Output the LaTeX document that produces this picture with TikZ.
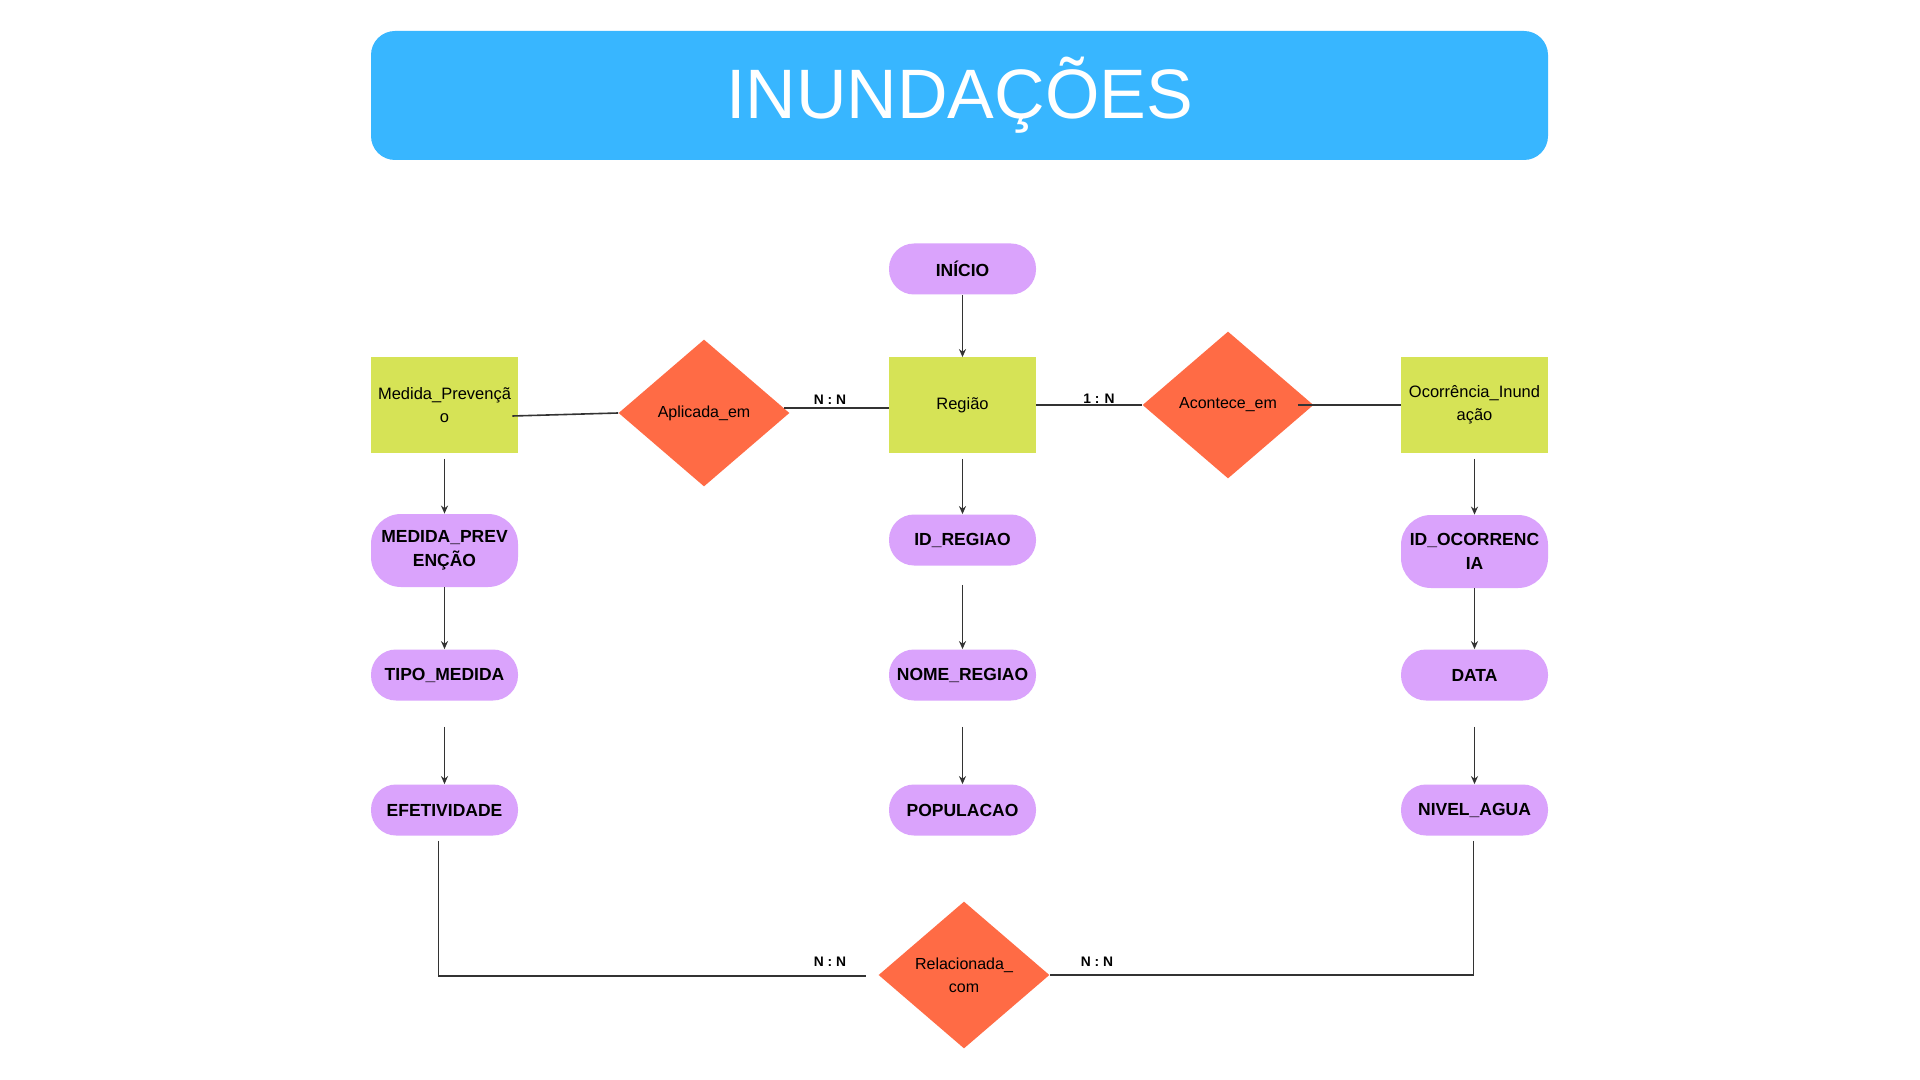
\documentclass[tikz,border=0pt]{standalone}
\usepackage{fontspec}
\setmainfont{Liberation Sans}
\usetikzlibrary{shapes.geometric,arrows.meta}
\definecolor{titleblue}{HTML}{38B6FF}
\definecolor{entgreen}{HTML}{D6E356}
\definecolor{relorange}{HTML}{FF6B45}
\definecolor{attrpurple}{HTML}{DAA3FC}
\definecolor{linegray}{HTML}{333333}
\begin{document}
\begin{tikzpicture}[x=0.5pt,y=-0.5pt,
  entity/.style={rectangle, fill=entgreen, minimum width=73.5pt, minimum height=47.5pt, inner sep=0pt, align=center, font=\fontsize{8.25}{11.5}\selectfont},
  attr/.style={rectangle, rounded corners=12.5pt, fill=attrpurple, minimum width=73.5pt, minimum height=25.5pt, inner sep=0pt, align=center, font=\bfseries\fontsize{8.75}{12.25}\selectfont},
  attrtall/.style={attr, rounded corners=15pt, minimum height=36.5pt},
  rel/.style={diamond, fill=relorange, minimum width=85.5pt, minimum height=73.5pt, inner sep=0pt, aspect=1.16, align=center, font=\fontsize{8}{11.5}\selectfont},
  card/.style={font=\bfseries\fontsize{6.9}{8}\selectfont, inner sep=0pt},
  conn/.style={draw=linegray, line width=0.8pt},
  arr/.style={conn, -{Stealth[length=4pt,width=3.5pt]}}
]
\useasboundingbox (0,0) rectangle (1920,1080);
\fill[white] (0,0) rectangle (1920,1080);

% title
\fill[titleblue, rounded corners=12pt] (371,31) rectangle (1548,160);
\node[anchor=base, text=white, font=\fontsize{35}{40}\selectfont, inner sep=0pt] (title) at (959.5,119) {INUNDAÇÕES};

% nodes
\node[attr] (inicio) at (962.5,269) {INÍCIO};
\node[entity] (regiao) at (962.5,405) {Região};
\node[entity] (medida) at (444.5,405) {Medida\_Prevençã\\o};
\node[entity] (ocorr) at (1474.5,405) {Ocorrência\_Inund\\ação};
\node[rel] (aplicada) at (704,413) {Aplicada\_em};
\node[rel] (acontece) at (1228,405) {Acontece\_em};
\node[rel] (relac) at (964,975) {Relacionada\_\\com};

\node[attrtall] (medprev) at (444.5,550.5) {MEDIDA\_PREV\\ENÇÃO};
\node[attr] (tipo) at (444.5,675) {TIPO\_MEDIDA};
\node[attr] (efet) at (444.5,810) {EFETIVIDADE};
\node[attr] (idreg) at (962.5,540) {ID\_REGIAO};
\node[attr] (nomereg) at (962.5,675) {NOME\_REGIAO};
\node[attr] (popul) at (962.5,810) {POPULACAO};
\node[attrtall] (idocor) at (1474.5,551.5) {ID\_OCORRENC\\IA};
\node[attr] (data) at (1474.5,675) {DATA};
\node[attr] (nivel) at (1474.5,810) {NIVEL\_AGUA};

% cardinality labels
\node[card] (c1) at (830,400) {N : N};
\node[card] (c2) at (1099,399) {1 : N};
\node[card] (c3) at (830,962) {N : N};
\node[card] (c4) at (1097,962) {N : N};

% connectors
\draw[arr] (inicio.south) -- (regiao.north);
\draw[conn] ([xshift=-3pt,yshift=-5.5pt]medida.east) -- (aplicada.west);
\draw[conn] ([xshift=-3pt,yshift=2.5pt]aplicada.east) -- ([yshift=-1.5pt]regiao.west);
\draw[conn] (regiao.east) -- (acontece.west);
\draw[conn] ([xshift=-8pt]acontece.east) -- (ocorr.west);

\draw[arr, shorten <=3pt] (medida.south) -- (medprev.north);
\draw[arr] (medprev.south) -- (tipo.north);
\draw[arr, shorten <=13pt] (tipo.south) -- (efet.north);

\draw[arr, shorten <=3pt] (regiao.south) -- (idreg.north);
\draw[arr, shorten <=9.5pt] (idreg.south) -- (nomereg.north);
\draw[arr, shorten <=13pt] (nomereg.south) -- (popul.north);

\draw[arr, shorten <=3pt] (ocorr.south) -- (idocor.north);
\draw[arr] (idocor.south) -- (data.north);
\draw[arr, shorten <=13pt] (data.south) -- (nivel.north);

\draw[conn] ([xshift=-3pt,yshift=-2.5pt]efet.south) |- ([xshift=-6pt,yshift=-0.5pt]relac.west);
\draw[conn] ([xshift=-0.5pt,yshift=-2.5pt]nivel.south) |- (relac.east);
\end{tikzpicture}
\end{document}
